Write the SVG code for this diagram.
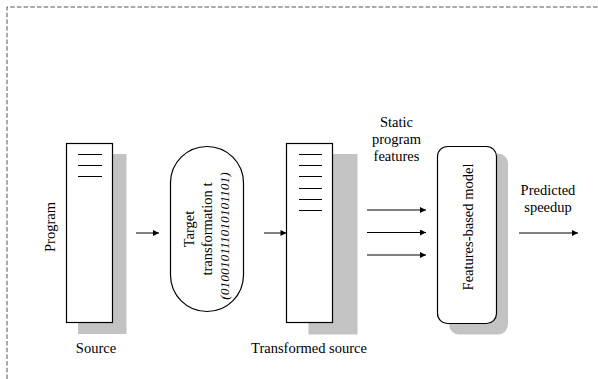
<svg xmlns="http://www.w3.org/2000/svg" width="598" height="379" viewBox="0 0 598 379" font-family="'Liberation Serif', 'Times New Roman', serif">
<style>
text{font-family:"Liberation Serif","Times New Roman",serif;font-size:14.5px;fill:#000}
.it{font-style:italic;font-size:13.5px}
.box{fill:#fff;stroke:#000;stroke-width:1.2}
.sh{fill:#c3c3c3;stroke:none}
.ln{stroke:#000;stroke-width:1}
.arr{stroke:#000;stroke-width:1;fill:none;marker-end:url(#ah)}
.border{fill:none;stroke:#555;stroke-width:1;stroke-dasharray:4.5,2.2}
</style>
<defs>
<marker id="ah" viewBox="0 0 10 10" refX="10" refY="5" markerWidth="7" markerHeight="6" markerUnits="userSpaceOnUse" orient="auto">
<path d="M0,0 L10,5 L0,10 z" fill="#000"/>
</marker>
</defs>
<path class="border" d="M7,379 V7 H598"/>
<g id="program">
<rect class="sh" x="78" y="154" width="48.5" height="180"/>
<rect class="box" x="66.5" y="143.5" width="46" height="179"/>
<line class="ln" x1="78" y1="154.5" x2="102" y2="154.5"/>
<line class="ln" x1="78" y1="165.5" x2="102" y2="165.5"/>
<line class="ln" x1="78" y1="176.5" x2="102" y2="176.5"/>
<text transform="translate(55,227) rotate(-90)" text-anchor="middle">Program</text>
<text x="96" y="353" text-anchor="middle">Source</text>
</g>
<g id="transformation">
<rect class="box" x="170.5" y="146.5" width="73" height="165" rx="36.5" ry="36.5"/>
<text transform="translate(194,229) rotate(-90)" text-anchor="middle">Target</text>
<text transform="translate(211.5,229) rotate(-90)" text-anchor="middle">transformation t</text>
<text class="it" transform="translate(228.5,236) rotate(-90)" text-anchor="middle">(010010111010101101)</text>
</g>
<g id="transformed">
<rect class="sh" x="308.5" y="154" width="49" height="180.5"/>
<rect class="box" x="286.5" y="143.5" width="46" height="179"/>
<line class="ln" x1="299" y1="154.5" x2="322" y2="154.5"/>
<line class="ln" x1="299" y1="165.5" x2="322" y2="165.5"/>
<line class="ln" x1="299" y1="176.5" x2="322" y2="176.5"/>
<line class="ln" x1="299" y1="188.5" x2="322" y2="188.5"/>
<line class="ln" x1="299" y1="199.5" x2="322" y2="199.5"/>
<line class="ln" x1="299" y1="210.5" x2="322" y2="210.5"/>
<text x="309" y="353" text-anchor="middle">Transformed source</text>
</g>
<g id="features">
<text x="396.5" y="127" text-anchor="middle">Static</text>
<text x="396.5" y="144" text-anchor="middle">program</text>
<text x="396.5" y="161" text-anchor="middle">features</text>
</g>
<g id="model">
<rect class="sh" x="449" y="153.5" width="59" height="181" rx="10" ry="10"/>
<rect class="box" x="437.5" y="146.5" width="59" height="177" rx="10" ry="10"/>
<text transform="translate(473,227) rotate(-90)" text-anchor="middle">Features-based model</text>
</g>
<g id="output">
<text x="548" y="195" text-anchor="middle">Predicted</text>
<text x="548" y="212" text-anchor="middle">speedup</text>
</g>
<g id="connectors">
<line class="arr" x1="136" y1="233" x2="159" y2="233"/>
<line class="arr" x1="264" y1="233" x2="286.5" y2="233"/>
<line class="arr" x1="367" y1="210" x2="426" y2="210"/>
<line class="arr" x1="367" y1="232.5" x2="426" y2="232.5"/>
<line class="arr" x1="367" y1="255" x2="426" y2="255"/>
<line class="arr" x1="519" y1="233" x2="578" y2="233"/>
</g>
</svg>
